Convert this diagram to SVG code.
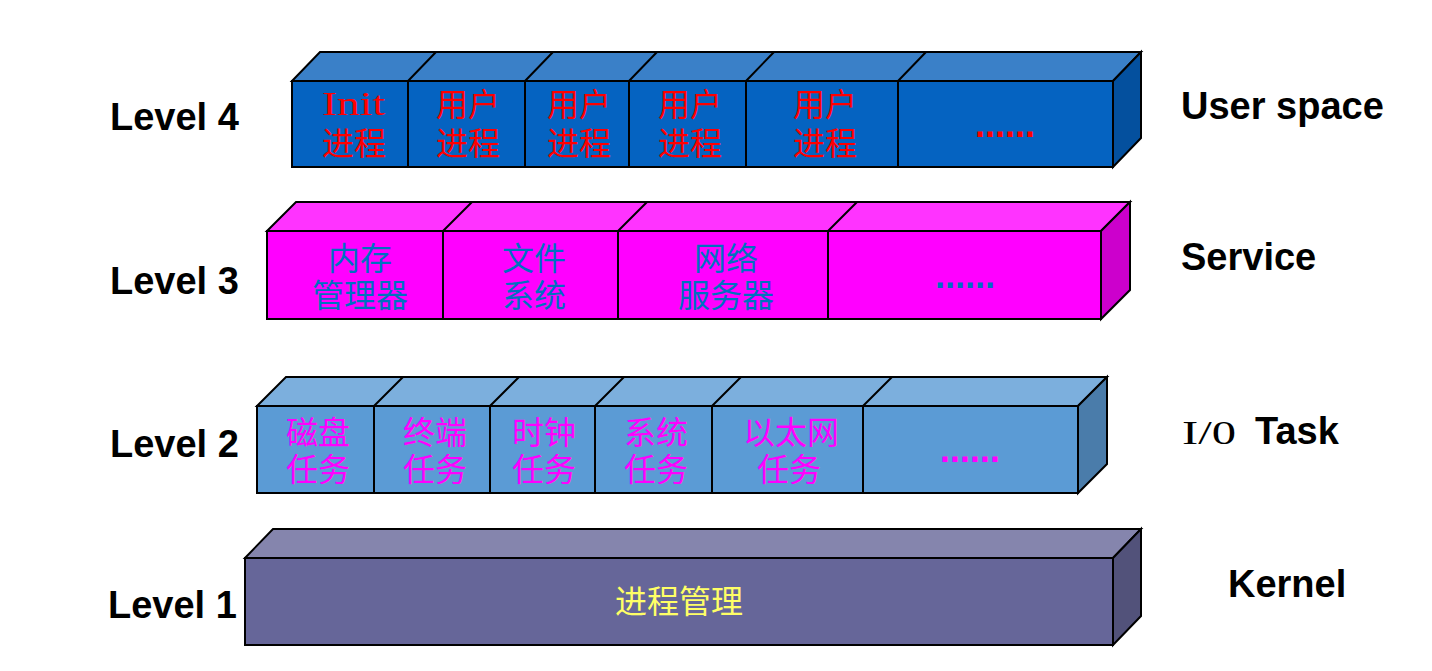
<svg xmlns="http://www.w3.org/2000/svg" width="1432" height="671" viewBox="0 0 1432 671">
<style>
.s{stroke:#000;stroke-width:2;stroke-linejoin:miter}
.lv{font-family:"Liberation Sans",Arial,sans-serif;font-weight:bold;font-size:38px;fill:#000}
.cj{font-family:"Noto Sans CJK SC",sans-serif;font-size:32px;text-anchor:middle}
.dots{font-family:"Liberation Sans",Arial,sans-serif;font-weight:bold;font-size:36px;text-anchor:middle}
.r{fill:#FF0000}.b{fill:#0070C0}.m{fill:#FF00FF}.y{fill:#FFFF66}
</style>
<rect width="1432" height="671" fill="#fff"/>

<g id="labels">
<text class="lv" x="110" y="130">Level 4</text>
<text class="lv" x="110" y="294">Level 3</text>
<text class="lv" x="110" y="457">Level 2</text>
<text class="lv" x="108" y="618">Level 1</text>
<text class="lv" x="1181" y="119" font-size="37">User space</text>
<text class="lv" x="1181" y="270">Service</text>
<text x="1182" y="444" font-family="'Liberation Serif','Times New Roman',serif" font-size="34" fill="#000" textLength="54" lengthAdjust="spacingAndGlyphs">I/0</text>
<text class="lv" x="1255" y="444" font-size="37">Task</text>
<text class="lv" x="1228" y="597">Kernel</text>
</g>

<g id="level4">
<polygon class="s" points="292,81 320,52 1141,52 1113,81" fill="#3A80C8"/>
<polygon class="s" points="1113,81 1141,52 1141,138 1113,167" fill="#04509E"/>
<rect class="s" x="292" y="81" width="821" height="86" fill="#0563C1"/>
<g class="s" fill="none">
<path d="M408,81 L436,52 M525,81 L553,52 M629,81 L657,52 M746,81 L774,52 M898,81 L926,52"/>
<path d="M408,81 V167 M525,81 V167 M629,81 V167 M746,81 V167 M898,81 V167"/>
</g>
<text x="322" y="115" font-family="'Liberation Serif','Times New Roman',serif" font-size="33" textLength="63" lengthAdjust="spacingAndGlyphs" class="r">Init</text>
<text class="cj r" x="354" y="155">进程</text>
<text class="cj r" x="468" y="116">用户</text><text class="cj r" x="468" y="155">进程</text>
<text class="cj r" x="579" y="116">用户</text><text class="cj r" x="579" y="155">进程</text>
<text class="cj r" x="690" y="116">用户</text><text class="cj r" x="690" y="155">进程</text>
<text class="cj r" x="825" y="116">用户</text><text class="cj r" x="825" y="155">进程</text>
<text class="dots r" x="1005" y="137">......</text>
</g>

<g id="level3">
<polygon class="s" points="267,231 296,202 1130,202 1101,231" fill="#FF33FF"/>
<polygon class="s" points="1101,231 1130,202 1130,290 1101,319" fill="#CC00CC"/>
<rect class="s" x="267" y="231" width="834" height="88" fill="#FF00FF"/>
<g class="s" fill="none">
<path d="M443,231 L472,202 M618,231 L647,202 M828,231 L857,202"/>
<path d="M443,231 V319 M618,231 V319 M828,231 V319"/>
</g>
<text class="cj b" x="360" y="270">内存</text><text class="cj b" x="360" y="307">管理器</text>
<text class="cj b" x="534" y="270">文件</text><text class="cj b" x="534" y="307">系统</text>
<text class="cj b" x="726" y="270">网络</text><text class="cj b" x="726" y="307">服务器</text>
<text class="dots b" x="965" y="288">......</text>
</g>

<g id="level2">
<polygon class="s" points="257,406 286,377 1107,377 1078,406" fill="#7CAFDD"/>
<polygon class="s" points="1078,406 1107,377 1107,464 1078,493" fill="#4A7CAA"/>
<rect class="s" x="257" y="406" width="821" height="87" fill="#5B9BD5"/>
<g class="s" fill="none">
<path d="M374,406 L403,377 M490,406 L519,377 M595,406 L624,377 M712,406 L741,377 M863,406 L892,377"/>
<path d="M374,406 V493 M490,406 V493 M595,406 V493 M712,406 V493 M863,406 V493"/>
</g>
<text class="cj m" x="318" y="444">磁盘</text><text class="cj m" x="318" y="481">任务</text>
<text class="cj m" x="435" y="444">终端</text><text class="cj m" x="435" y="481">任务</text>
<text class="cj m" x="544" y="444">时钟</text><text class="cj m" x="544" y="481">任务</text>
<text class="cj m" x="656" y="444">系统</text><text class="cj m" x="656" y="481">任务</text>
<text class="cj m" x="791" y="444">以太网</text><text class="cj m" x="789" y="481">任务</text>
<text class="dots m" x="970" y="462">......</text>
</g>

<g id="level1">
<polygon class="s" points="245,558 273,529 1141,529 1113,558" fill="#8585AD"/>
<polygon class="s" points="1113,558 1141,529 1141,616 1113,645" fill="#52527A"/>
<rect class="s" x="245" y="558" width="868" height="87" fill="#666699"/>
<text class="cj y" x="679" y="613">进程管理</text>
</g>

<g id="connectors"/>
</svg>
